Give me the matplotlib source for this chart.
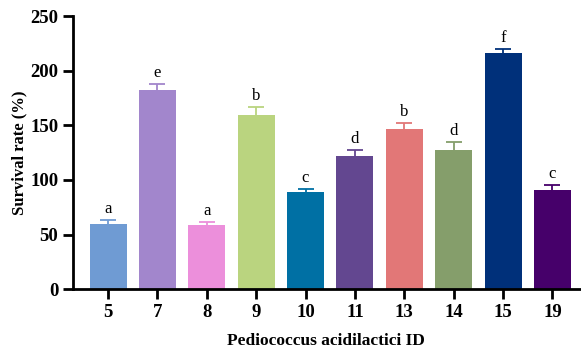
import matplotlib.pyplot as plt
import numpy as np

plt.rcParams['font.family'] = ['Liberation Serif', 'DejaVu Serif']

ids = ['5', '7', '8', '9', '10', '11', '13', '14', '15', '19']
survival = [59.2, 182.0, 59.0, 159.0, 88.5, 122.0, 146.5, 127.3, 215.8, 91.0]
sd = [3.7, 5.7, 2.4, 7.7, 3.3, 5.3, 5.2, 7.0, 4.0, 4.0]
letters = ['a', 'e', 'a', 'b', 'c', 'd', 'b', 'd', 'f', 'c']
colors = ['#6F9BD3', '#A286CC', '#EC8FDB', '#BAD47F', '#0070A4',
          '#634790', '#E27777', '#859E6B', '#00307A', '#46006A']

fig = plt.figure(figsize=(5.81, 3.5), dpi=100)
ax = fig.add_axes([0.1256, 0.174, 0.872, 0.78])

x = np.arange(len(ids))
ax.bar(x, survival, width=0.75, color=colors, zorder=2)
for i in range(len(ids)):
    eb = ax.errorbar(x[i], survival[i], yerr=[[0], [sd[i]]], color=colors[i],
                     capsize=6, elinewidth=1.3, capthick=1.3, zorder=1)
    # pas de cap en bas (cache par la barre)
    eb[1][0].set_visible(False)
    ax.text(x[i], survival[i] + sd[i] + 3, letters[i], ha='center', va='bottom',
            fontsize=12)

ax.set_xlim(-0.71, 9.55)
ax.set_ylim(0, 250)
ax.set_yticks([0, 50, 100, 150, 200, 250])
ax.set_xticks(x)
ax.set_xticklabels(ids)

for s in ['top', 'right']:
    ax.spines[s].set_visible(False)
for s in ['left', 'bottom']:
    ax.spines[s].set_linewidth(2)
ax.tick_params(width=2, length=7, labelsize=13.5)
for lab in ax.get_xticklabels() + ax.get_yticklabels():
    lab.set_fontweight('bold')

ax.set_ylabel('Survival rate (%)', fontsize=12, fontweight='bold', labelpad=2)
ax.set_xlabel('Pediococcus acidilactici ID', fontsize=12.5, fontweight='bold', labelpad=9)

plt.savefig('out.png')
